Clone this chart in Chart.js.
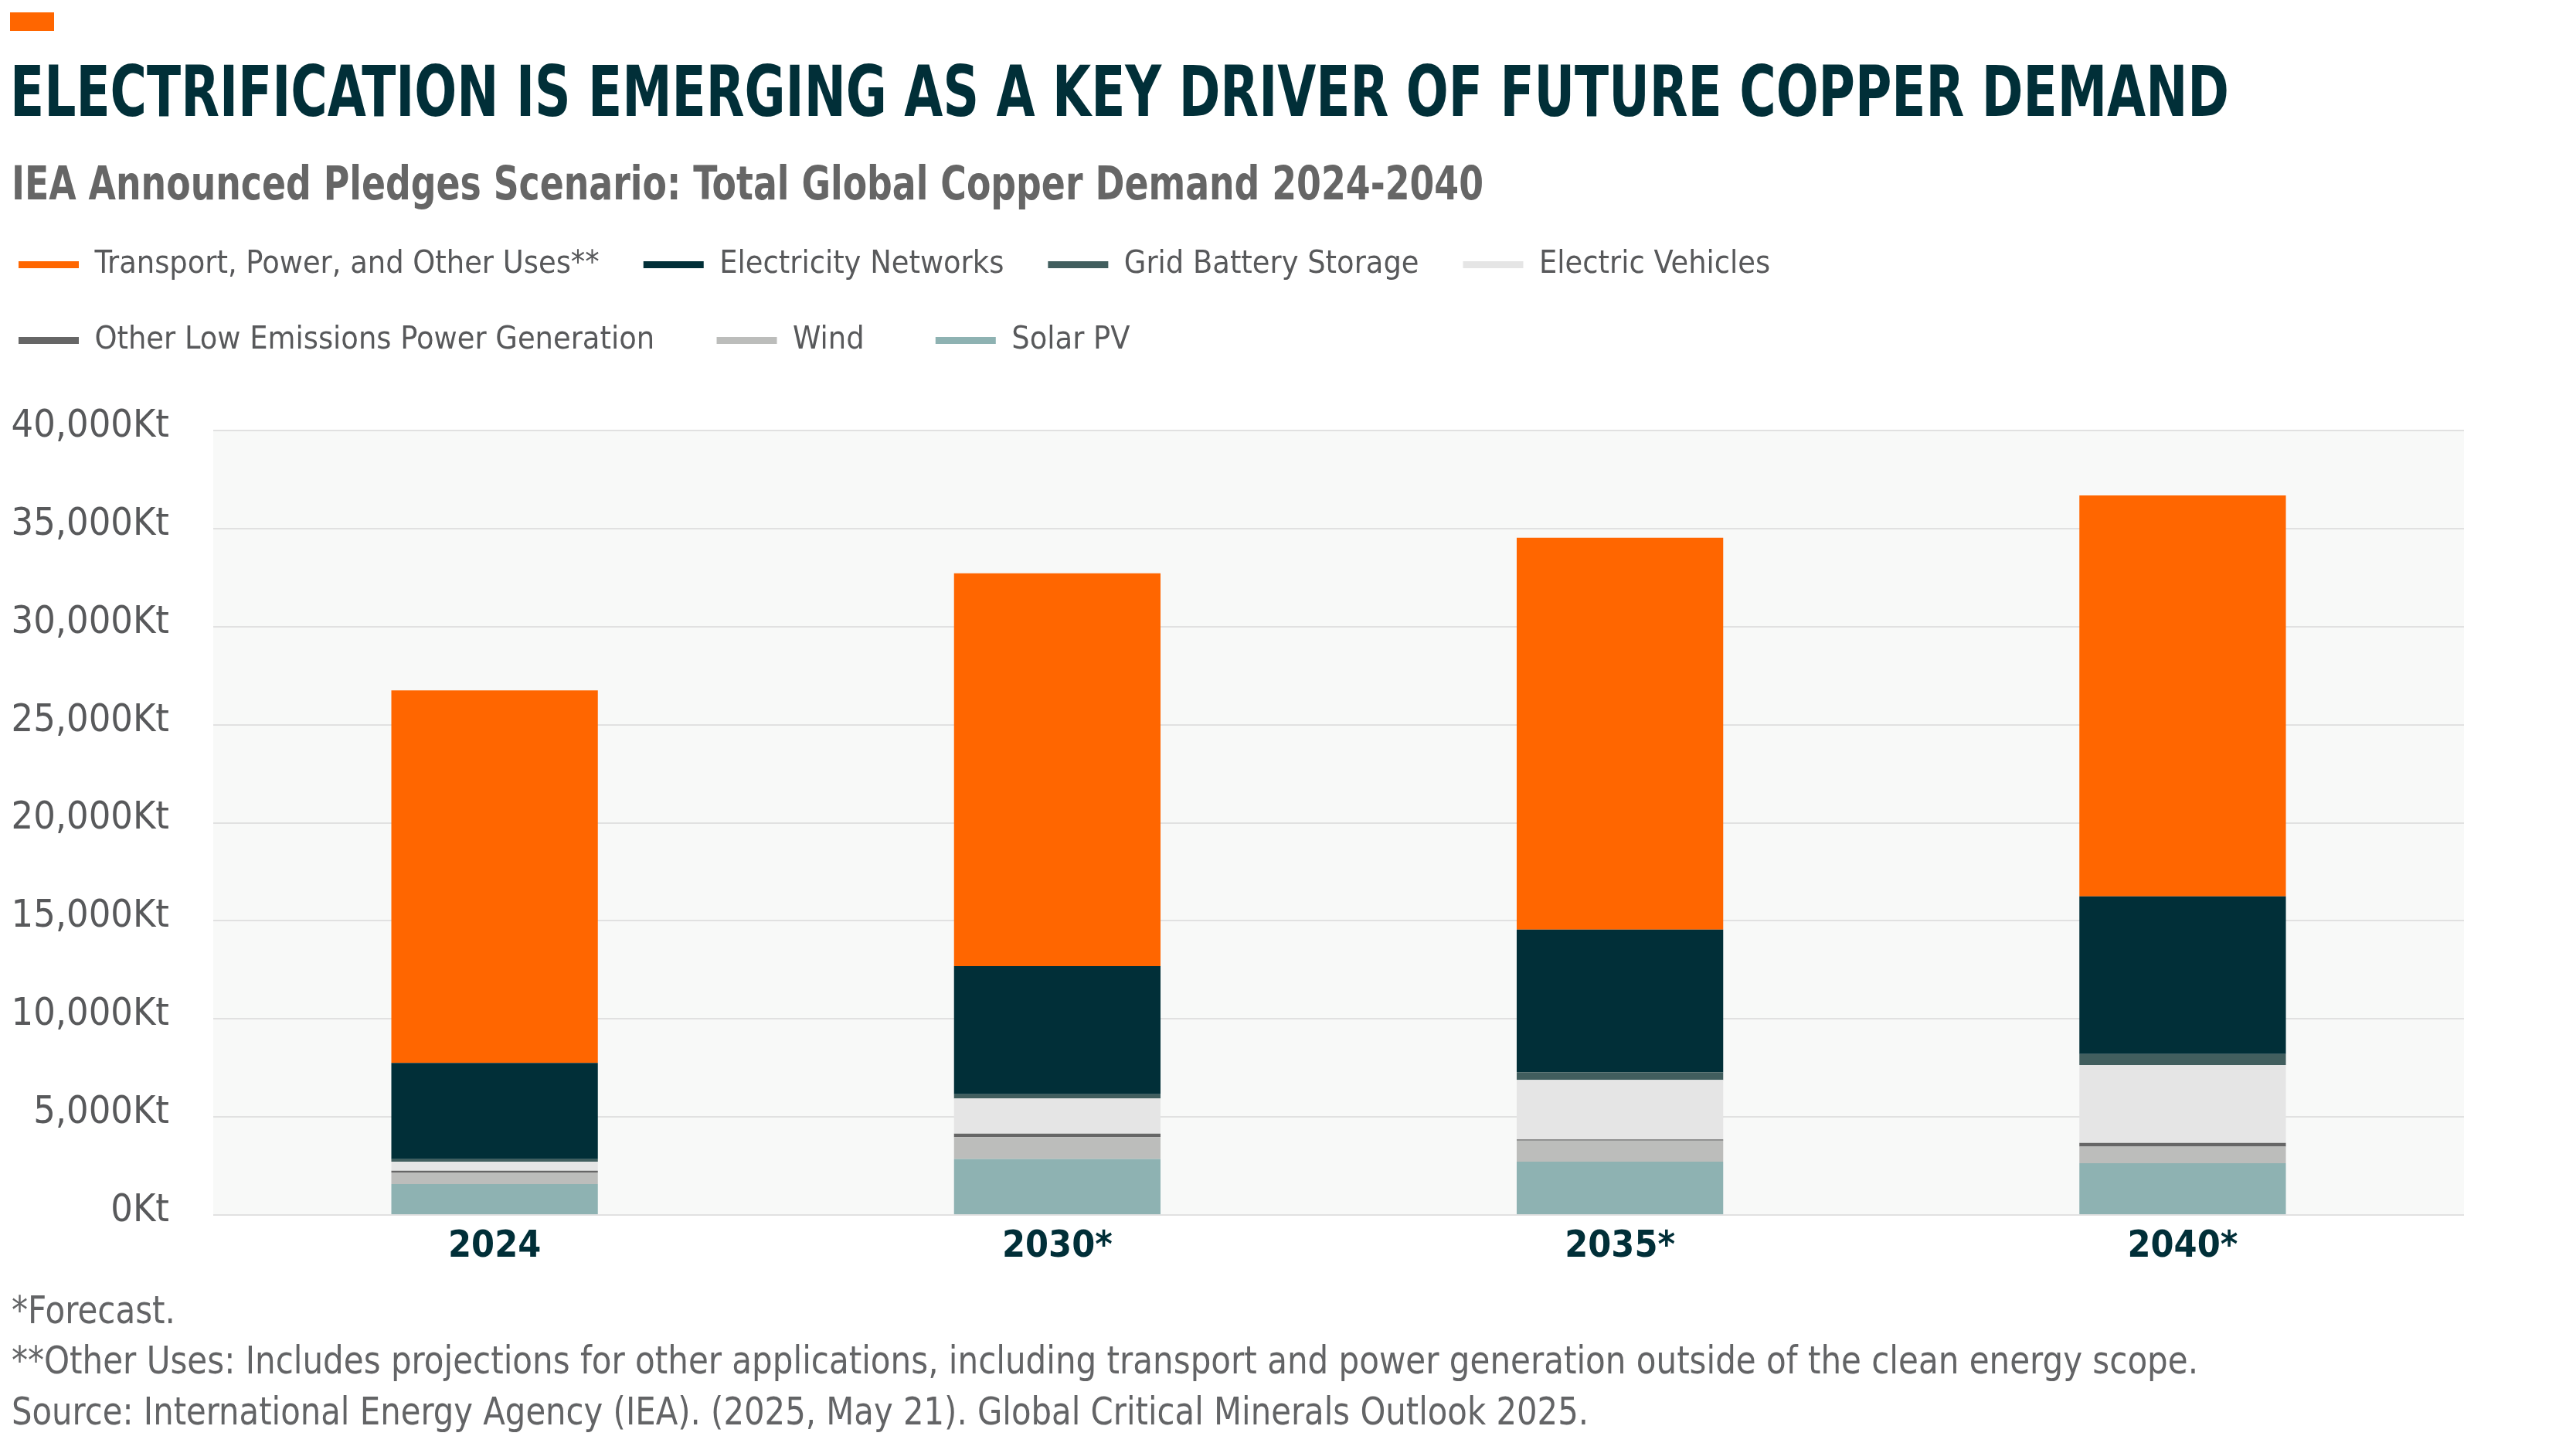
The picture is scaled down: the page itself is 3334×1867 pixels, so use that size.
<!DOCTYPE html>
<html>
<head>
<meta charset="utf-8">
<script src="https://cdn.jsdelivr.net/npm/chart.js@4.4.1/dist/chart.umd.min.js"></script>
<style>
  html, body { margin:0; padding:0; background:#ffffff; }
  body { width:3334px; height:1867px; position:relative; overflow:hidden; }
  .txt { position:absolute; white-space:nowrap; line-height:1; transform-origin:0 0;
         font-family:"DejaVu Sans Condensed","Liberation Sans Narrow","Liberation Sans",sans-serif; }
  #mark { position:absolute; left:13px; top:16px; width:57px; height:24px; background:#ff6600; }
  #title { color:#012f38; font-weight:700; }
  #subtitle { color:#666666; font-weight:700; }
  .foot { color:#636466; font-weight:400; }
  #wrap { position:absolute; left:-33px; top:265px; width:3367px; height:1394px; }
</style>
</head>
<body>
<div id="mark"></div>
<div id="title" class="txt">ELECTRIFICATION IS EMERGING AS A KEY DRIVER OF FUTURE COPPER DEMAND</div>
<div id="subtitle" class="txt">IEA Announced Pledges Scenario: Total Global Copper Demand 2024-2040</div>
<div id="wrap"><canvas id="c" width="3367" height="1394"></canvas></div>
<div id="f1" class="txt foot">*Forecast.</div>
<div id="f2" class="txt foot">**Other Uses: Includes projections for other applications, including transport and power generation outside of the clean energy scope.</div>
<div id="f3" class="txt foot">Source: International Energy Agency (IEA). (2025, May 21). Global Critical Minerals Outlook 2025.</div>
<script>
// ---- data (Kt) ----
const categories = ['2024', '2030*', '2035*', '2040*'];
const solarPV      = [1580, 2855, 2720, 2645];
const wind         = [590, 1120, 1070, 840];
const otherLowEm   = [90, 170, 65, 185];
const electricVeh  = [460, 1800, 3030, 3975];
const gridBattery  = [130, 210, 400, 565];
const elecNetworks = [4900, 6530, 7270, 8040];
const transportEtc = [19000, 20030, 19980, 20440];
const yTicks = [0, 5000, 10000, 15000, 20000, 25000, 30000, 35000, 40000];

const FONT = '"DejaVu Sans Condensed","Liberation Sans Narrow","Liberation Sans",sans-serif';

function place(id, x, baseline, size, targetWidth) {
  const el = document.getElementById(id);
  el.style.fontSize = size + 'px';
  el.style.left = x + 'px';
  el.style.top = '0px';
  el.style.transform = 'none';
  const m = document.createElement('span');
  m.style.cssText = 'display:inline-block;width:0;height:0;vertical-align:baseline';
  el.appendChild(m);
  const b = m.getBoundingClientRect().top - el.getBoundingClientRect().top;
  el.removeChild(m);
  el.style.top = (baseline - b) + 'px';
  let s = 1;
  if (targetWidth) {
    const w = el.getBoundingClientRect().width;
    s = targetWidth / w;
    el.style.transform = 'scaleX(' + s + ')';
  }
  return s;
}
place('title', 13, 150, 91, 2872);
place('subtitle', 15, 258, 60, 1905);
const fs = place('f2', 15, 1777, 50, 2830);
place('f3', 15, 1843, 50, 2041);
place('f1', 15, 1712, 50);
document.getElementById('f1').style.transform = 'scaleX(' + fs + ')';

const LEGEND_MAX = 2500;
const LEGEND_GAP = 86;
// extra spacing after some legend entries (in non-breaking spaces), to mimic the original layout
const legendExtra = { 'Other Low Emissions Power Generation': 2, 'Wind': 3 };
const legendWrap = {
  id: 'legendWrap',
  beforeInit(chart) {
    const fit = chart.legend.fit;
    chart.legend.fit = function () {
      this.maxWidth = LEGEND_MAX;
      fit.call(this);
      this.height += LEGEND_GAP;
    };
  },
  afterLayout(chart) {
    const lg = chart.legend;
    lg.width = LEGEND_MAX;
    lg.right = lg.left + LEGEND_MAX;
  }
};
const plotBg = {
  id: 'plotBg',
  beforeDraw(chart) {
    const a = chart.chartArea, ctx = chart.ctx;
    ctx.save();
    ctx.fillStyle = '#f8f9f8';
    ctx.fillRect(a.left, a.top, a.right - a.left, a.bottom - a.top);
    ctx.restore();
  }
};

const mk = (label, data, color) => ({ label, data, backgroundColor: color, borderWidth: 0,
  categoryPercentage: 1.0, barPercentage: 0.367 });

new Chart(document.getElementById('c'), {
  type: 'bar',
  data: {
    labels: categories,
    datasets: [
      mk('Solar PV', solarPV, '#8eb2b2'),
      mk('Wind', wind, '#bcbdbb'),
      mk('Other Low Emissions Power Generation', otherLowEm, '#666666'),
      mk('Electric Vehicles', electricVeh, '#e5e5e5'),
      mk('Grid Battery Storage', gridBattery, '#415e5e'),
      mk('Electricity Networks', elecNetworks, '#012f38'),
      mk('Transport, Power, and Other Uses**', transportEtc, '#ff6600')
    ]
  },
  options: {
    responsive: false,
    devicePixelRatio: 1,
    animation: false,
    layout: { padding: { left: 0, right: 145, top: 0, bottom: 0 } },
    plugins: {
      tooltip: { enabled: false },
      legend: {
        position: 'top',
        align: 'start',
        labels: {
          boxWidth: 78, boxHeight: 9, padding: 57,
          color: '#58595b',
          font: { family: FONT, size: 41 },
          sort: (a, b) => b.datasetIndex - a.datasetIndex,
          generateLabels(chart) {
            const items = Chart.defaults.plugins.legend.labels.generateLabels(chart);
            items.forEach(it => {
              const n = legendExtra[it.text] || 0;
              it.text = it.text + '\u00a0'.repeat(n);
              it.lineWidth = 0;
            });
            return items;
          }
        }
      }
    },
    scales: {
      x: {
        stacked: true,
        afterFit(scale) { scale.height = 78; },
        grid: { display: false, drawTicks: false },
        border: { display: false },
        ticks: { color: '#012f38', padding: 13, font: { family: FONT, size: 48, weight: 'bold' } }
      },
      y: {
        stacked: true,
        min: 0, max: 40000,
        afterFit(scale) { scale.width = 309; },
        afterBuildTicks(scale) { scale.ticks = yTicks.map(v => ({ value: v })); },
        grid: { color: '#e1e1e1', lineWidth: 2, drawTicks: false },
        border: { display: false },
        ticks: {
          color: '#58595b', padding: 57, labelOffset: -5,
          font: { family: FONT, size: 50 },
          callback: (v) => v.toLocaleString('en-US') + 'Kt'
        }
      }
    }
  },
  plugins: [legendWrap, plotBg]
});
</script>
</body>
</html>
